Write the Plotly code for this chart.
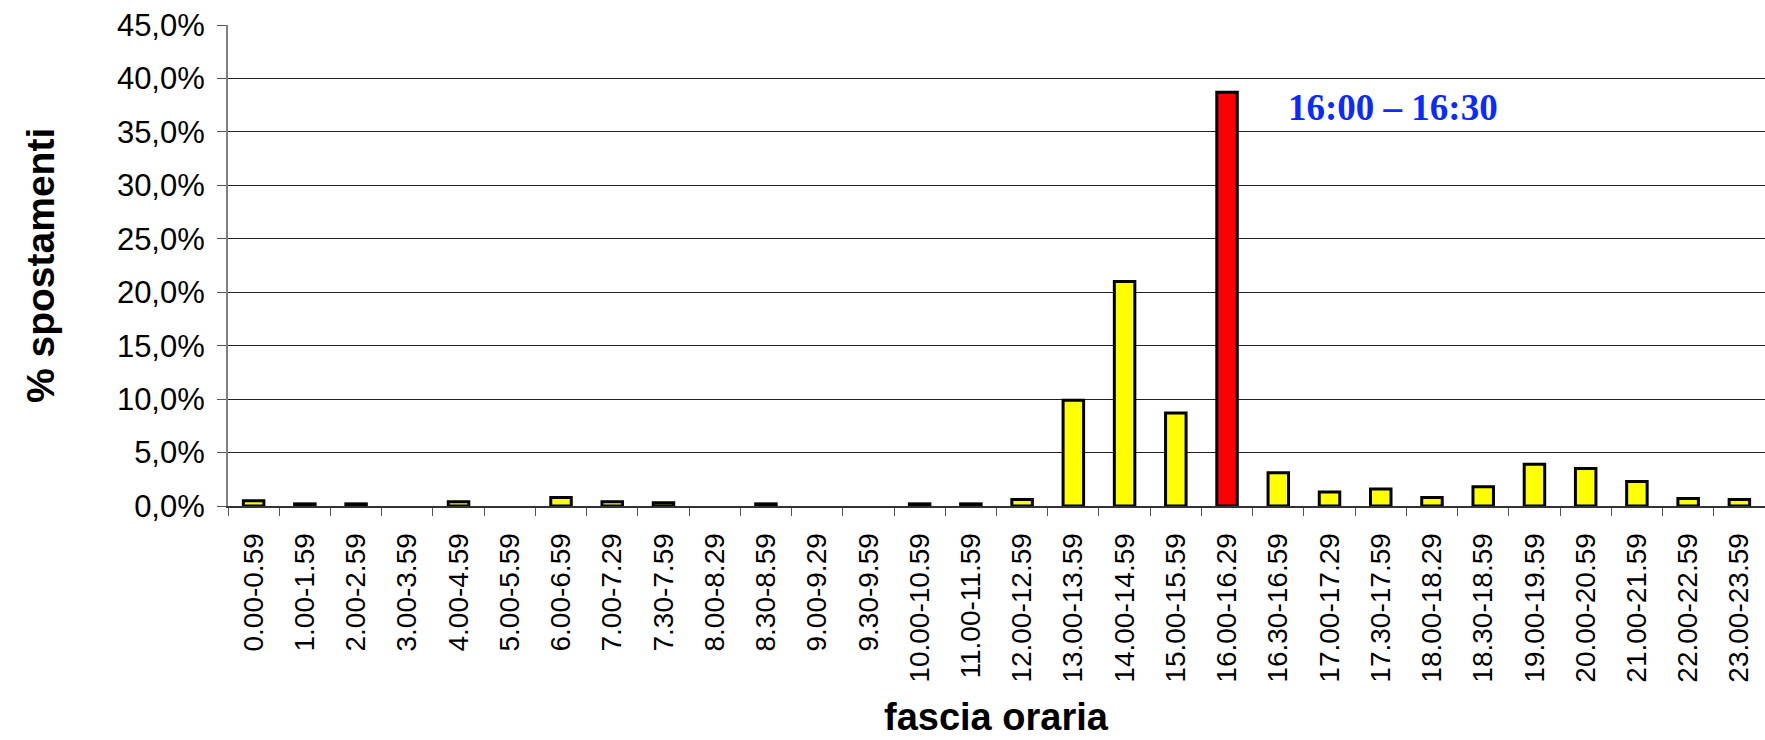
import plotly.graph_objects as go

categories = ["0.00-0.59", "1.00-1.59", "2.00-2.59", "3.00-3.59", "4.00-4.59", "5.00-5.59",
              "6.00-6.59", "7.00-7.29", "7.30-7.59", "8.00-8.29", "8.30-8.59", "9.00-9.29",
              "9.30-9.59", "10.00-10.59", "11.00-11.59", "12.00-12.59", "13.00-13.59",
              "14.00-14.59", "15.00-15.59", "16.00-16.29", "16.30-16.59", "17.00-17.29",
              "17.30-17.59", "18.00-18.29", "18.30-18.59", "19.00-19.59", "20.00-20.59",
              "21.00-21.59", "22.00-22.59", "23.00-23.59"]
values = [0.5, 0.2, 0.2, 0.0, 0.4, 0.0,
          0.8, 0.4, 0.3, 0.0, 0.2, 0.0,
          0.0, 0.2, 0.2, 0.6, 9.9,
          21.0, 8.7, 38.7, 3.1, 1.3,
          1.6, 0.8, 1.8, 3.9, 3.5,
          2.3, 0.7, 0.6]
highlight = "16.00-16.29"
y_tickvals = [0, 5, 10, 15, 20, 25, 30, 35, 40, 45]
y_ticktext = ["0,0%", "5,0%", "10,0%", "15,0%", "20,0%", "25,0%", "30,0%", "35,0%", "40,0%", "45,0%"]
annotation_text = "16:00 – 16:30"
x_title = "fascia oraria"
y_title = "% spostamenti"

colors = ["#FF0000" if c == highlight else "#FFFF00" for c in categories]
line_widths = [3 if v > 0 else 0 for v in values]

fig = go.Figure()
fig.add_trace(go.Bar(
    x=categories, y=values,
    marker=dict(color=colors, line=dict(color="#000000", width=line_widths)),
    hoverinfo="x+y",
))

sans = "Liberation Sans, Arial, sans-serif"

fig.update_layout(
    width=1765, height=740,
    margin=dict(l=228, r=0, t=25, b=234, autoexpand=False),
    paper_bgcolor="white", plot_bgcolor="white",
    bargap=0.6,
    showlegend=False,
    font=dict(family=sans, color="#000000"),
    xaxis=dict(
        type="category",
        categoryorder="array", categoryarray=categories,
        tickangle=-90,
        tickfont=dict(family=sans, size=28, color="#000000"),
        ticks="outside", ticklen=8, tickwidth=1, tickcolor="#555555",
        tickson="boundaries",
        ticklabelstandoff=14,
        showline=True, linecolor="#333333", linewidth=2,
        showgrid=False,
        automargin=False,
        range=[-0.5, len(categories) - 0.5],
    ),
    yaxis=dict(
        range=[0, 45],
        tickvals=y_tickvals, ticktext=y_ticktext,
        tickfont=dict(family=sans, size=31, color="#000000"),
        ticks="outside", ticklen=9, tickwidth=1, tickcolor="#555555",
        ticklabelstandoff=6,
        showline=True, linecolor="#808080", linewidth=2,
        showgrid=True, gridcolor="#222222", gridwidth=1,
        zeroline=False,
        automargin=False,
    ),
    annotations=[
        dict(text="<b>" + annotation_text + "</b>", xref="paper", yref="y", x=0.758, y=37.3,
             xanchor="center", yanchor="middle", showarrow=False,
             font=dict(family="Liberation Serif, Times New Roman, serif", size=37, color="#0a2bff"),
             ),
        dict(text="<b>" + x_title + "</b>", xref="paper", yref="paper", x=0.5, y=-0.438,
             xanchor="center", yanchor="middle", showarrow=False,
             font=dict(family=sans, size=38, color="#000000")),
        dict(text="<b>" + y_title + "</b>", xref="paper", yref="paper", x=-0.122, y=0.5,
             xanchor="center", yanchor="middle", showarrow=False, textangle=-90,
             font=dict(family=sans, size=39, color="#000000")),
    ],
)

fig.write_html("out.html",
               config={"displayModeBar": False},
               post_script="document.body.style.margin='0px';document.body.style.overflow='hidden';")
